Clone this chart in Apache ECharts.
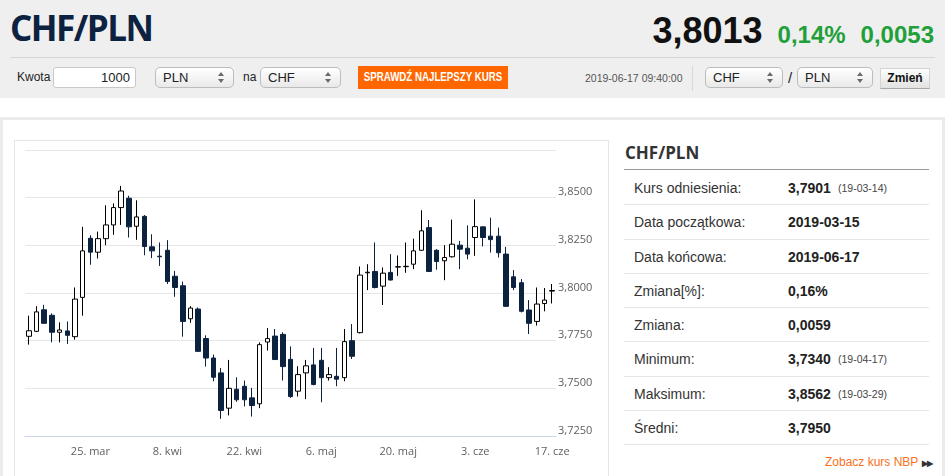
<!DOCTYPE html>
<html lang="pl">
<head>
<meta charset="utf-8">
<title>CHF/PLN</title>
<script src="https://cdn.jsdelivr.net/npm/echarts@6.0.0/dist/echarts.min.js"></script>
<style>
    body {
        margin: 0;
        width: 945px;
        height: 476px;
        overflow: hidden;
        position: relative;
        background: #fff;
        font-family: "Liberation Sans", Arial, sans-serif;
        color: #222;
    }
    .abs { position: absolute; white-space: nowrap; }
    #top { position: absolute; left: 0; top: 0; width: 945px; height: 98px; background: #efefef; }
    #pair { left: 10px; top: 10px; font: bold 35px/36px "Open Sans", sans-serif; color: #0c2240; letter-spacing: -1.5px; }
    #price { right: 11px; top: 13px; line-height: 36px; }
    #price .rate { font-weight: bold; font-size: 36px; color: #111; }
    #price .chg { font-weight: bold; font-size: 24px; color: #21a03a; margin-left: 15px; }
    #divider { left: 10px; top: 57px; width: 925px; height: 1px; background: #d6d6d6; }
    .lbl { top: 67px; font-size: 12px; line-height: 21px; color: #222; }
    .input {
        top: 67px; height: 21px; box-sizing: border-box; border: 1px solid #c9c9c9; border-radius: 3px;
        background: #fff; font-size: 13px; line-height: 19px; text-align: right; padding-right: 5px;
    }
    .select {
        top: 67px; height: 21px; box-sizing: border-box; border: 1px solid #bdbdbd; border-radius: 5px;
        background: linear-gradient(#ffffff, #e9e9e9); font-size: 13px; line-height: 19px; padding-left: 7px;
    }
    .select::before, .select::after {
        content: ''; position: absolute; right: 9px; width: 0; height: 0;
        border-left: 3px solid transparent; border-right: 3px solid transparent;
    }
    .select::before { top: 4px; border-bottom: 4px solid #6a6a6a; }
    .select::after { top: 11px; border-top: 4px solid #6a6a6a; }
    #best {
        left: 358px; top: 66px; width: 150px; height: 23px; background: #ff6600; color: #fff;
        font-weight: bold; font-size: 12px; line-height: 23px;
    }
    #best span { position: absolute; left: 50%; top: 0; transform: translateX(-50%) scaleX(0.81); }
    #stamp { left: 585px; top: 68px; font-size: 10.5px; line-height: 21px; color: #555; }
    #sep { left: 692px; top: 66px; width: 1px; height: 25px; background: #d8d8d8; }
    #swap {
        left: 880px; top: 68px; width: 50px; height: 21px; box-sizing: border-box;
        border: 1px solid #d4d4d4; border-bottom-color: #a9a9a9; background: linear-gradient(#fdfdfd, #e2e2e2);
        font-weight: bold; font-size: 12px; line-height: 19px; text-align: center; color: #111;
    }
    #panel { left: 0; top: 117px; width: 945px; height: 400px; box-sizing: border-box; border: 3px solid #ebebeb; background: #fff; }
    #chartBox { left: 14px; top: 140px; width: 595px; height: 345px; box-sizing: border-box; border: 1px solid #e6e6e6; }
    #chart { position: absolute; left: 15px; top: 141px; width: 592px; height: 335px; }
    #statTitle { left: 625px; top: 143px; font: bold 17px/20px "Open Sans", sans-serif; color: #333; }
    #statLine { left: 624px; top: 169px; width: 305px; height: 1px; background: #999; }
    #stats { left: 624px; top: 171px; width: 305px; }
    .row { position: relative; height: 34.3px; box-sizing: border-box; border-bottom: 1px solid #e6e6e6; }
    .row span { position: absolute; top: 0; line-height: 34px; white-space: nowrap; }
    .row .k { left: 10px; font-size: 14px; color: #333; }
    .row .v { left: 164px; font-size: 14px; font-weight: bold; color: #222; }
    .row .d { left: 214px; font-size: 10.5px; color: #444; }
    #nbp { left: 825px; top: 453px; font-size: 12px; line-height: 18px; color: #f7711c; }
    #nbp b { font-size: 8px; color: #333; margin-left: 4px; letter-spacing: -1px; }
</style>
</head>
<body>
<div id="top"></div>
<div class="abs" id="pair">CHF/PLN</div>
<div class="abs" id="price"><span class="rate">3,8013</span><span class="chg">0,14%</span><span class="chg">0,0053</span></div>
<div class="abs" id="divider"></div>

<div class="abs lbl" style="left:17px">Kwota</div>
<div class="abs input" style="left:53px;width:83px">1000</div>
<div class="abs select" style="left:155px;width:79px">PLN</div>
<div class="abs lbl" style="left:243px">na</div>
<div class="abs select" style="left:260px;width:81px">CHF</div>
<div class="abs" id="best"><span>SPRAWDŹ NAJLEPSZY KURS</span></div>

<div class="abs" id="stamp">2019-06-17 09:40:00</div>
<div class="abs" id="sep"></div>
<div class="abs select" style="left:705px;width:78px">CHF</div>
<div class="abs lbl" style="left:788px;font-size:15px">/</div>
<div class="abs select" style="left:797px;width:76px">PLN</div>
<div class="abs" id="swap">Zmień</div>

<div class="abs" id="panel"></div>
<div class="abs" id="chartBox"></div>
<div id="chart"></div>

<div class="abs" id="statTitle">CHF/PLN</div>
<div class="abs" id="statLine"></div>
<div class="abs" id="stats">
    <div class="row"><span class="k">Kurs odniesienia:</span><span class="v">3,7901</span><span class="d">(19-03-14)</span></div>
    <div class="row"><span class="k">Data początkowa:</span><span class="v">2019-03-15</span></div>
    <div class="row"><span class="k">Data końcowa:</span><span class="v">2019-06-17</span></div>
    <div class="row"><span class="k">Zmiana[%]:</span><span class="v">0,16%</span></div>
    <div class="row"><span class="k">Zmiana:</span><span class="v">0,0059</span></div>
    <div class="row"><span class="k">Minimum:</span><span class="v">3,7340</span><span class="d">(19-04-17)</span></div>
    <div class="row"><span class="k">Maksimum:</span><span class="v">3,8562</span><span class="d">(19-03-29)</span></div>
    <div class="row"><span class="k">Średni:</span><span class="v">3,7950</span></div>
</div>
<div class="abs" id="nbp">Zobacz kurs NBP<b>▶▶</b></div>

<script>
// daily candles CHF/PLN, trading days only
let categories = [
    '2019-03-13', '2019-03-14', '2019-03-15', '2019-03-18', '2019-03-19', '2019-03-20', '2019-03-21', '2019-03-22',
    '2019-03-25', '2019-03-26', '2019-03-27', '2019-03-28', '2019-03-29',
    '2019-04-01', '2019-04-02', '2019-04-03', '2019-04-04', '2019-04-05',
    '2019-04-08', '2019-04-09', '2019-04-10', '2019-04-11', '2019-04-12',
    '2019-04-15', '2019-04-16', '2019-04-17', '2019-04-18', '2019-04-19',
    '2019-04-22', '2019-04-23', '2019-04-24', '2019-04-25', '2019-04-26',
    '2019-04-29', '2019-04-30', '2019-05-01', '2019-05-02', '2019-05-03',
    '2019-05-06', '2019-05-07', '2019-05-08', '2019-05-09', '2019-05-10',
    '2019-05-13', '2019-05-14', '2019-05-15', '2019-05-16', '2019-05-17',
    '2019-05-20', '2019-05-21', '2019-05-22', '2019-05-23', '2019-05-24',
    '2019-05-27', '2019-05-28', '2019-05-29', '2019-05-30', '2019-05-31',
    '2019-06-03', '2019-06-04', '2019-06-05', '2019-06-06', '2019-06-07',
    '2019-06-10', '2019-06-11', '2019-06-12', '2019-06-13', '2019-06-14',
    '2019-06-17'
];

let openData = [
    3.7773, 3.7799, 3.7912, 3.7883, 3.7794, 3.7801, 3.7771, 3.7977,
    3.8287, 3.8214, 3.8285, 3.8357, 3.8448,
    3.8497, 3.8350, 3.8402, 3.8242, 3.8193,
    3.8224, 3.8088, 3.8038, 3.7865, 3.7916,
    3.7761, 3.7659, 3.7581, 3.7396, 3.7495,
    3.7511, 3.7450, 3.7419, 3.7743, 3.7774,
    3.7783, 3.7652, 3.7485, 3.7581, 3.7623,
    3.7647, 3.7556, 3.7563, 3.7556, 3.7750,
    3.7792, 3.8106, 3.8113, 3.8036, 3.8108,
    3.8136, 3.8138, 3.8151, 3.8224, 3.8343,
    3.8224, 3.8169, 3.8190, 3.8251, 3.8235,
    3.8291, 3.8347, 3.8298, 3.8298, 3.8204,
    3.8085, 3.8054, 3.7911, 3.7851, 3.7945,
    3.8010
];

let closeData = [
    3.7802, 3.7901, 3.7841, 3.7794, 3.7806, 3.7778, 3.7968, 3.8221,
    3.8214, 3.8285, 3.8357, 3.8448, 3.8535,
    3.8347, 3.8399, 3.8244, 3.8221, 3.8190,
    3.8060, 3.8029, 3.7851, 3.7921, 3.7694,
    3.7659, 3.7558, 3.7384, 3.7500, 3.7440,
    3.7440, 3.7410, 3.7729, 3.7761, 3.7651,
    3.7614, 3.7457, 3.7572, 3.7618, 3.7520,
    3.7556, 3.7572, 3.7548, 3.7745, 3.7668,
    3.8094, 3.8109, 3.8029, 3.8104, 3.8068,
    3.8138, 3.8140, 3.8221, 3.8326, 3.8113,
    3.8165, 3.8186, 3.8256, 3.8230, 3.8204,
    3.8348, 3.8291, 3.8280, 3.8211, 3.7930,
    3.8029, 3.7904, 3.7841, 3.7942, 3.7963,
    3.8013
];

let lowData = [
    3.7729, 3.7795, 3.7838, 3.7741, 3.7741, 3.7733, 3.7755, 3.7881,
    3.8148, 3.8181, 3.8251, 3.8305, 3.8357,
    3.8291, 3.8279, 3.8198, 3.8183, 3.8142,
    3.8047, 3.7980, 3.7771, 3.7844, 3.7692,
    3.7614, 3.7537, 3.7340, 3.7358, 3.7429,
    3.7405, 3.7352, 3.7396, 3.7698, 3.7649,
    3.7541, 3.7450, 3.7457, 3.7443, 3.7516,
    3.7427, 3.7541, 3.7511, 3.7537, 3.7654,
    3.7788, 3.8015, 3.8024, 3.7937, 3.8066,
    3.8090, 3.8106, 3.8125, 3.8222, 3.8111,
    3.8122, 3.8067, 3.8186, 3.8125, 3.8177,
    3.8195, 3.8244, 3.8212, 3.8186, 3.7928,
    3.8015, 3.7898, 3.7785, 3.7829, 3.7904,
    3.7945
];

let highData = [
    3.7881, 3.7931, 3.7938, 3.7893, 3.7846, 3.7851, 3.8029, 3.8347,
    3.8303, 3.8322, 3.8460, 3.8470, 3.8562,
    3.8510, 3.8486, 3.8409, 3.8308, 3.8265,
    3.8277, 3.8116, 3.8060, 3.7931, 3.7924,
    3.7778, 3.7677, 3.7607, 3.7649, 3.7558,
    3.7541, 3.7502, 3.7741, 3.7816, 3.7811,
    3.7794, 3.7720, 3.7616, 3.7649, 3.7712,
    3.7712, 3.7611, 3.7712, 3.7811, 3.7837,
    3.8139, 3.8151, 3.8265, 3.8134, 3.8204,
    3.8197, 3.8265, 3.8285, 3.8434, 3.8383,
    3.8230, 3.8251, 3.8385, 3.8273, 3.8355,
    3.8491, 3.8349, 3.8395, 3.8343, 3.8242,
    3.8120, 3.8073, 3.7963, 3.8029, 3.8026,
    3.8047
];

// x axis labels, one per two weeks
let xTickLabels = {
    '2019-03-25': '25. mar',
    '2019-04-08': '8. kwi',
    '2019-04-22': '22. kwi',
    '2019-05-06': '6. maj',
    '2019-05-20': '20. maj',
    '2019-06-03': '3. cze',
    '2019-06-17': '17. cze'
};

let yMin = 3.725;
let yMax = 3.875;
let yStep = 0.025;

let chart = echarts.init(document.getElementById('chart'));

let candles = categories.map(function (d, i) {
    return [openData[i], closeData[i], lowData[i], highData[i]];
});

let hasTick = function (index, value) {
    return xTickLabels[value] !== undefined;
};

let option = {
    animation: false,
    grid: { left: 10, right: 51, top: 9, bottom: 40, outerBoundsMode: 'none' },
    xAxis: {
        type: 'category',
        data: categories,
        boundaryGap: true,
        axisLine: { lineStyle: { color: '#ccd6eb', width: 1 } },
        axisTick: { interval: hasTick, alignWithLabel: true, length: 7, lineStyle: { color: '#ccd6eb' } },
        axisLabel: {
            interval: hasTick,
            margin: 10,
            color: '#606060',
            fontFamily: 'Open Sans',
            fontSize: 11,
            formatter: function (value) {
                return xTickLabels[value] || '';
            }
        },
        splitLine: { show: false }
    },
    yAxis: {
        type: 'value',
        position: 'right',
        min: yMin,
        max: yMax,
        interval: yStep,
        axisLine: { show: false },
        axisTick: { show: false },
        axisLabel: {
            margin: 2,
            color: '#606060',
            fontFamily: 'Open Sans',
            fontSize: 11,
            verticalAlign: 'bottom',
            formatter: function (value) {
                // top line has no label in the original
                if (value > yMax - yStep / 2) {
                    return '';
                }
                return value.toFixed(4).replace('.', ',');
            }
        },
        splitLine: { lineStyle: { color: '#e6e6e6', width: 1 } }
    },
    series: [{
        type: 'candlestick',
        data: candles,
        barWidth: 5,
        itemStyle: {
            color: '#ffffff',
            color0: '#0c2340',
            borderColor: '#000000',
            borderColor0: '#0c2340',
            borderWidth: 1
        }
    }]
};

chart.setOption(option);
</script>
</body>
</html>
